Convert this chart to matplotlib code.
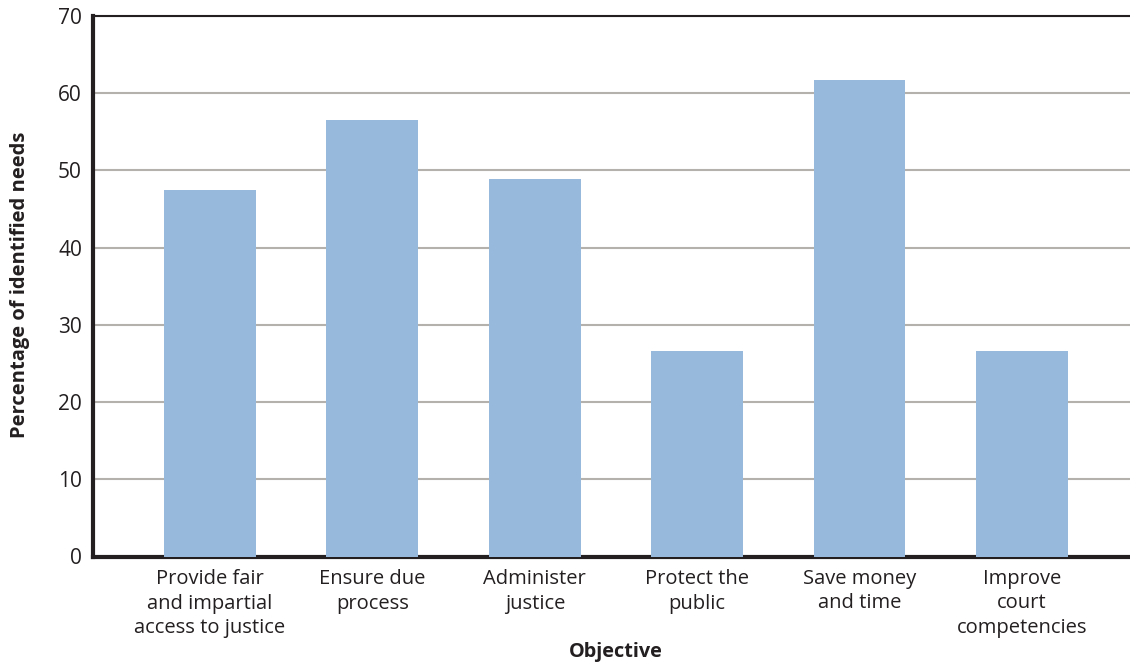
import matplotlib
matplotlib.use("Agg")
import matplotlib.pyplot as plt

# Share of identified needs by court objective
categories = [
    "Provide fair\nand impartial\naccess to justice",
    "Ensure due\nprocess",
    "Administer\njustice",
    "Protect the\npublic",
    "Save money\nand time",
    "Improve\ncourt\ncompetencies",
]
values = [47.5, 56.5, 48.9, 26.6, 61.7, 26.6]
y_ticks = [0, 10, 20, 30, 40, 50, 60, 70]

plt.rcParams["font.family"] = ["Open Sans", "DejaVu Sans"]

W, H = 1130, 662
fig = plt.figure(figsize=(W / 100, H / 100), dpi=100)
ax = fig.add_axes([93 / W, (H - 556.5) / H, 1 - 93 / W, (556.5 - 16) / H])

x = list(range(len(categories)))
ax.bar(x, values, width=0.565, color="#97b9dc", zorder=3)

ax.set_xlim(-0.72, 5.665)
ax.set_ylim(0, 70)
ax.set_yticks(y_ticks)
ax.set_xticks(x)
ax.set_xticklabels(categories, fontsize=14.5, color="#231f20", linespacing=1.3)
ax.tick_params(axis="both", length=0, colors="#231f20")
ax.tick_params(axis="y", labelsize=15, pad=8)
ax.tick_params(axis="x", pad=9)

ax.yaxis.grid(True, color="#b4b0ac", linewidth=1.5, zorder=1)
ax.set_axisbelow(True)

ax.spines["right"].set_visible(False)
ax.spines["top"].set_color("#231f20")
ax.spines["top"].set_linewidth(1.5)
ax.spines["left"].set_color("#231f20")
ax.spines["left"].set_linewidth(3)
ax.spines["bottom"].set_color("#231f20")
ax.spines["bottom"].set_linewidth(3)

# Axis titles placed in figure coordinates
fig.text(20 / W, 1 - 285 / H, "Percentage of identified needs", rotation=90,
         ha="center", va="center", fontsize=14.5, fontweight="bold",
         color="#231f20")
fig.text((93 + 523) / W, 1 - 652 / H, "Objective", ha="center", va="center",
         fontsize=14.3, fontweight="bold", color="#231f20")

fig.savefig("out.png", dpi=100)
